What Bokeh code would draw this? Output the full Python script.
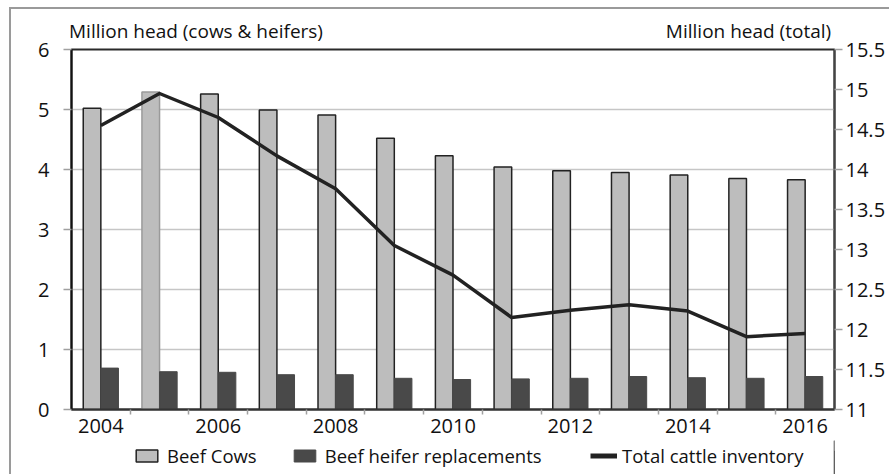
import json
from bokeh.plotting import figure
from bokeh.layouts import column
from bokeh.models import (Range1d, LinearAxis, FixedTicker, Legend, LegendItem,
                          CustomJSTickFormatter, ColumnDataSource)
from bokeh.transform import dodge
from bokeh.embed import file_html
from bokeh.resources import INLINE

# ---- data ----
years = [2004, 2005, 2006, 2007, 2008, 2009, 2010, 2011, 2012, 2013, 2014, 2015, 2016]
beef_cows = [5.02, 5.29, 5.26, 4.99, 4.91, 4.52, 4.23, 4.04, 3.98, 3.95, 3.91, 3.85, 3.83]
heifer_replacements = [0.69, 0.63, 0.62, 0.58, 0.58, 0.52, 0.50, 0.51, 0.52, 0.55, 0.53, 0.52, 0.55]
total_inventory = [14.55, 14.95, 14.65, 14.17, 13.76, 13.05, 12.68, 12.15, 12.24, 12.31, 12.23, 11.91, 11.95]
x_tick_labels = [2004, 2006, 2008, 2010, 2012, 2014, 2016]
left_ticks = [0, 1, 2, 3, 4, 5, 6]
right_ticks = [11, 11.5, 12, 12.5, 13, 13.5, 14, 14.5, 15, 15.5]
left_title = "Million head (cows & heifers)"
right_title = "Million head (total)"
series_names = ["Beef Cows", "Beef heifer replacements", "Total cattle inventory"]

# ---- styles ----
FONT = "Open Sans"
TXT = "#111111"
COW_FILL, COW_LINE = "#bdbdbd", "#222222"
HEIF_FILL = "#494949"
TOT_LINE = "#222222"
FRAME_GREY = "#9a9a9a"
cow_outline = [COW_LINE] * len(years)
cow_outline[1] = FRAME_GREY

src = ColumnDataSource(dict(year=years, cows=beef_cows, heifers=heifer_replacements,
                            total=total_inventory, cow_outline=cow_outline))

p = figure(width=889, height=440, x_range=Range1d(years[0] - 0.5, years[-1] + 0.5),
           y_range=Range1d(left_ticks[0], left_ticks[-1]),
           output_backend="svg", toolbar_location=None,
           min_border_left=71, min_border_right=55, min_border_top=49, min_border_bottom=31)
p.border_fill_color = None
p.styles = {
    "background-image": f"linear-gradient({FRAME_GREY},{FRAME_GREY}), linear-gradient({FRAME_GREY},{FRAME_GREY})",
    "background-size": "2px 100%, 100% 2px",
    "background-position": "9px 7px, 9px 7px",
    "background-repeat": "no-repeat",
}
p.outline_line_color = "#2a2a2a"
p.outline_line_width = 2
p.extra_y_ranges = {"total": Range1d(right_ticks[0], right_ticks[-1])}

def style_axis(ax, size="20px"):
    ax.major_label_text_font = FONT
    ax.major_label_text_font_size = size
    ax.major_label_text_color = TXT
    ax.minor_tick_out = 0
    ax.minor_tick_in = 0
    ax.major_tick_in = 0

# x axis
xa = p.xaxis[0]
style_axis(xa)
xa.ticker = FixedTicker(ticks=x_tick_labels, minor_ticks=[y + 0.5 for y in years[:-1]])
xa.major_tick_out = 0
xa.minor_tick_out = 5
xa.minor_tick_line_color = "#a0a0a0"
xa.minor_tick_line_width = 1.5
xa.axis_line_color = "#333333"
xa.axis_line_width = 2
xa.major_label_standoff = 4

# left axis
ya = p.yaxis[0]
style_axis(ya)
ya.ticker = FixedTicker(ticks=left_ticks)
ya.major_tick_out = 8
ya.major_tick_line_color = "#a0a0a0"
ya.major_tick_line_width = 1.5
ya.axis_line_color = "#111111"
ya.axis_line_width = 2
ya.major_label_standoff = 14

# right axis
ra = LinearAxis(y_range_name="total", ticker=FixedTicker(ticks=right_ticks),
                formatter=CustomJSTickFormatter(code="return tick.toString();"))
style_axis(ra)
ra.major_tick_out = 8
ra.major_tick_line_color = "#a0a0a0"
ra.major_tick_line_width = 1.5
ra.axis_line_color = "#444444"
ra.axis_line_width = 2
ra.major_label_standoff = 3
p.add_layout(ra, "right")

# axis titles, drawn as labels of an otherwise invisible top axis
x0 = years[0] - 0.5
px_per_year = 763 / len(years)
left_title_pos = x0 + (195.5 - 71) / px_per_year
right_title_pos = x0 + (748 - 71) / px_per_year
ta = LinearAxis(ticker=FixedTicker(ticks=[left_title_pos, right_title_pos]),
                formatter=CustomJSTickFormatter(
                    code="return tick < %f ? %s : %s;" % ((left_title_pos + right_title_pos) / 2,
                                                         json.dumps(left_title), json.dumps(right_title))))
style_axis(ta, "19px")
ta.major_tick_out = 0
ta.axis_line_color = None
ta.major_tick_line_color = None
ta.major_label_standoff = 6
p.add_layout(ta, "above")

p.xgrid.grid_line_color = None
p.ygrid.ticker = FixedTicker(ticks=left_ticks)
p.ygrid.grid_line_color = "#c6c6c6"
p.ygrid.grid_line_width = 1.5

# bars
p.vbar(x=dodge("year", -0.15, range=p.x_range), top="cows", width=0.3, source=src,
       fill_color=COW_FILL, line_color="cow_outline", line_width=1.5)
p.vbar(x=dodge("year", 0.15, range=p.x_range), top="heifers", width=0.3, source=src,
       fill_color=HEIF_FILL, line_color=HEIF_FILL, line_width=1)
# line
p.line(x="year", y="total", source=src, y_range_name="total",
       line_color=TOT_LINE, line_width=3.5, line_join="round")

# ---- legend strip (separate small figure under the chart, frame aligned with the chart) ----
q = figure(width=889, height=34, x_range=Range1d(0, 1), y_range=Range1d(0, 1),
           output_backend="svg", toolbar_location=None,
           min_border_left=71, min_border_right=55, min_border_top=0, min_border_bottom=0)
q.axis.visible = False
q.grid.visible = False
q.outline_line_color = None
q.background_fill_color = None
q.border_fill_color = None
q.styles = {
    "background-image": f"linear-gradient({FRAME_GREY},{FRAME_GREY})",
    "background-size": "2px 100%",
    "background-position": "9px 0px",
    "background-repeat": "no-repeat",
}
# key renderers: same series, but their data lie outside this strip's ranges (only the legend shows)
k_cows = q.vbar(x=years[:1], top=beef_cows[:1], width=0.3,
                fill_color=COW_FILL, line_color=COW_LINE, line_width=1.5)
k_heif = q.vbar(x=years[:1], top=heifer_replacements[:1], width=0.3,
                fill_color=HEIF_FILL, line_color=HEIF_FILL, line_width=1)
k_tot = q.line(x=years[:2], y=total_inventory[:2], line_color=TOT_LINE, line_width=5)

common = dict(orientation="horizontal", glyph_width=27, glyph_height=15,
              label_text_font=FONT, label_text_font_size="18.5px", label_text_color=TXT,
              background_fill_alpha=0, border_line_alpha=0, padding=0, margin=0)
leg1 = Legend(items=[LegendItem(label=series_names[0], renderers=[k_cows]),
                     LegendItem(label=series_names[1], renderers=[k_heif])],
              location=(133 - 71, 6), spacing=34, label_standoff=7, **common)
leg2 = Legend(items=[LegendItem(label=series_names[2], renderers=[k_tot])],
              location=(590 - 71, 6), spacing=0, label_standoff=5, **common)
q.add_layout(leg1)
q.add_layout(leg2)

layout = column(p, q, spacing=0)
open("out.html", "w").write(file_html(layout, INLINE))
